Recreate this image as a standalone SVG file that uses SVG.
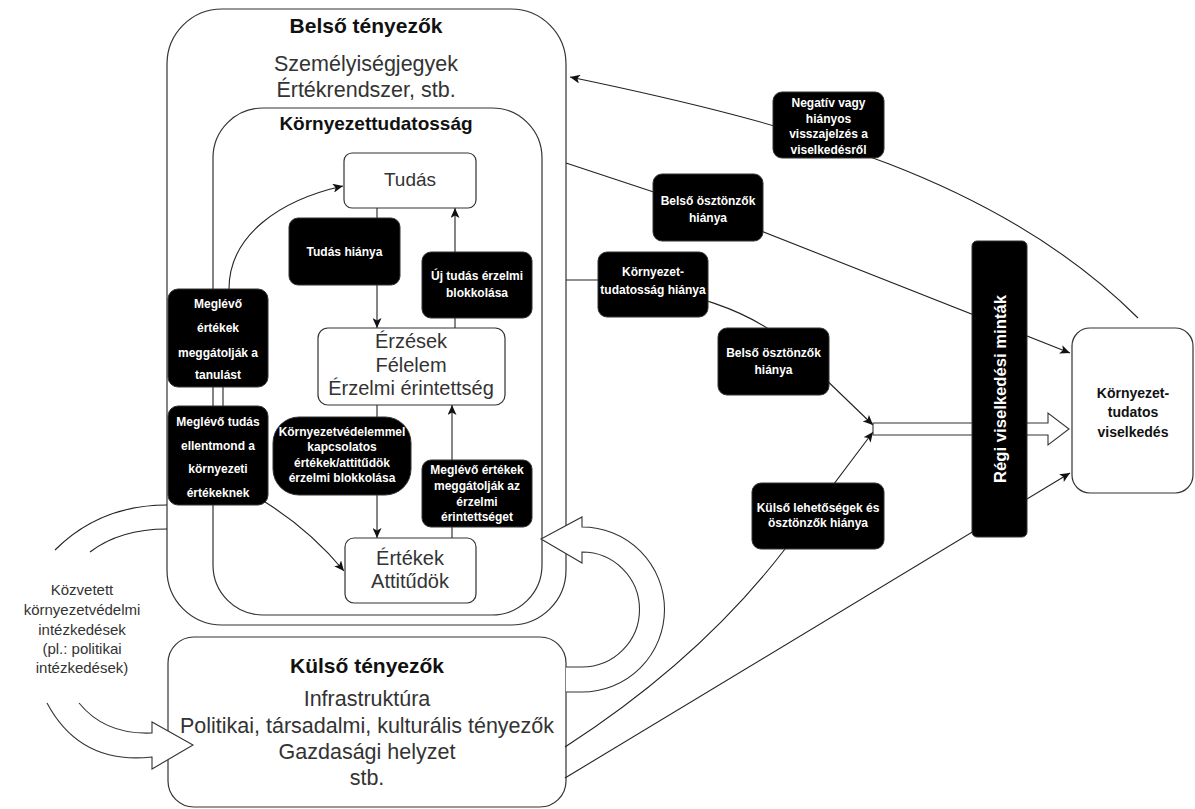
<svg xmlns="http://www.w3.org/2000/svg" width="1195" height="809" viewBox="0 0 1195 809">
<defs>
<marker id="ah" markerUnits="userSpaceOnUse" markerWidth="11" markerHeight="9" refX="10" refY="4.5" orient="auto">
<path d="M0,0 L10,4.5 L0,9 L2.5,4.5 Z" fill="#111"/>
</marker>
<style>
.box{fill:#fff;stroke:#333;stroke-width:1.2}
.lbl{fill:#000;stroke:#333;stroke-width:1}
.ln{fill:none;stroke:#222;stroke-width:1.1}
.hol{fill:#fff;stroke:#333;stroke-width:1.1}
.t{font-family:"Liberation Sans",Arial,sans-serif;text-anchor:middle}
.w{fill:#fff;font-weight:bold;font-size:12px}
.g{fill:#333}
.b{fill:#111;font-weight:bold}
</style>
</defs>
<rect width="1195" height="809" fill="#fff"/>

<g id="belso-tenyezok">
<rect class="box" x="167" y="9" width="399" height="616" rx="55"/>
<text class="t b" x="366" y="33" font-size="21">Belső tényezők</text>
<text class="t g" x="366" y="71" font-size="21.5">Személyiségjegyek</text>
<text class="t g" x="366" y="97" font-size="21.5">Értékrendszer, stb.</text>
</g>
<g id="kornyezettudatossag">
<rect class="box" x="213" y="108" width="329" height="507" rx="50"/>
<text class="t b" x="376" y="130" font-size="19">Környezettudatosság</text>
</g>
<g id="kulso-tenyezok">
<rect class="box" x="168" y="637" width="398" height="170" rx="26"/>
<text class="t b" x="367" y="673" font-size="21">Külső tényezők</text>
<text class="t g" x="367" y="706" font-size="21.5">Infrastruktúra</text>
<text class="t g" x="367" y="733" font-size="21.5">Politikai, társadalmi, kulturális tényezők</text>
<text class="t g" x="367" y="759" font-size="21.5">Gazdasági helyzet</text>
<text class="t g" x="367" y="785" font-size="21.5">stb.</text>
</g>

<g id="connectors">
<path class="ln" d="M377,208 L377,328" marker-end="url(#ah)"/>
<path class="ln" d="M455,328 L455,208" marker-end="url(#ah)"/>
<path class="ln" d="M377,405 L377,538" marker-end="url(#ah)"/>
<path class="ln" d="M452,538 L452,405" marker-end="url(#ah)"/>
<path class="ln" d="M229,289 C229,235 280,200 343,186" marker-end="url(#ah)"/>
<path class="ln" d="M223,387 L223,406"/>
<path class="ln" d="M265,502 Q310,530 344,571" marker-end="url(#ah)"/>
<path class="ln" d="M1138,318 C1000,180 800,125 570,77" marker-end="url(#ah)"/>
<path class="ln" d="M566,163 L708,210 L1070,353" marker-end="url(#ah)"/>
<path class="ln" d="M566,280 L600,280 C690,290 750,310 790,345 L873,425" marker-end="url(#ah)"/>
<path class="ln" d="M565,747 Q700,660 785,549 L873,432" marker-end="url(#ah)"/>
<path class="ln" d="M565,778 L1070,473" marker-end="url(#ah)"/>
<path class="hol" d="M873,423 L1048,423 L1048,413 L1069,429 L1048,445 L1048,435 L873,435 Z"/>
<path class="hol" d="M566,667 L582,667 A57.5,57.5 0 0 0 639.5,609.5 A57.5,57.5 0 0 0 582,552 L582,563 L541,539 L582,517 L582,527 A82.5,82.5 0 0 1 664.5,609.5 A82.5,82.5 0 0 1 582,692 L566,692"/>
<path class="ln" d="M167,505 Q100,505 55,550"/>
<path class="ln" d="M167,529 Q120,529 90,552"/>
<path class="hol" d="M47,703 Q80,765 152,757 L152,769 L193,745 L152,722 L152,733 Q105,735 79,703"/>
</g>

<g id="tudas">
<rect class="box" x="344" y="153" width="132" height="55" rx="8"/>
<text class="t g" x="410" y="186" font-size="19">Tudás</text>
</g>
<g id="erzesek">
<rect class="box" x="318" y="328" width="187" height="77" rx="10"/>
<text class="t g" x="411" y="348" font-size="20">Érzések</text>
<text class="t g" x="411" y="372" font-size="20">Félelem</text>
<text class="t g" x="411" y="395" font-size="20">Érzelmi érintettség</text>
</g>
<g id="ertekek">
<rect class="box" x="345" y="538" width="131" height="65" rx="9"/>
<text class="t g" x="410" y="565" font-size="20">Értékek</text>
<text class="t g" x="410" y="588" font-size="20">Attitűdök</text>
</g>
<g id="kornyezettudatos-viselkedes">
<rect class="box" x="1072" y="328" width="121" height="165" rx="18"/>
<text class="t b" x="1133" y="398" font-size="14">Környezet-</text>
<text class="t b" x="1133" y="417" font-size="14">tudatos</text>
<text class="t b" x="1133" y="437" font-size="14">viselkedés</text>
</g>

<g id="tudas-hianya">
<rect class="lbl" x="289" y="218" width="111" height="67" rx="9"/>
<text class="t w" x="344.5" y="256">Tudás hiánya</text>
</g>
<g id="uj-tudas">
<rect class="lbl" x="422" y="252" width="110" height="66" rx="9"/>
<text class="t w" x="477" y="280">Új tudás érzelmi</text>
<text class="t w" x="477" y="297">blokkolása</text>
</g>
<g id="meglevo-ertekek-tanulas">
<rect class="lbl" x="168" y="289" width="100" height="98" rx="10"/>
<text class="t w" x="218" y="308">Meglévő</text>
<text class="t w" x="218" y="332">értékek</text>
<text class="t w" x="218" y="357">meggátolják a</text>
<text class="t w" x="218" y="379">tanulást</text>
</g>
<g id="meglevo-tudas">
<rect class="lbl" x="168" y="406" width="100" height="99" rx="10"/>
<text class="t w" x="218" y="426">Meglévő tudás</text>
<text class="t w" x="218" y="450">ellentmond a</text>
<text class="t w" x="218" y="473">környezeti</text>
<text class="t w" x="218" y="497">értékeknek</text>
</g>
<g id="kornyezetvedelemmel">
<rect class="lbl" x="273" y="417" width="138" height="78" rx="26"/>
<text class="t w" x="342" y="436">Környezetvédelemmel</text>
<text class="t w" x="342" y="451">kapcsolatos</text>
<text class="t w" x="342" y="467">értékek/attitűdök</text>
<text class="t w" x="342" y="482">érzelmi blokkolása</text>
</g>
<g id="meglevo-ertekek-erzelmi">
<rect class="lbl" x="422" y="460" width="110" height="67" rx="9"/>
<text class="t w" x="477" y="474">Meglévő értékek</text>
<text class="t w" x="477" y="490">meggátolják az</text>
<text class="t w" x="477" y="506">érzelmi</text>
<text class="t w" x="477" y="521">érintettséget</text>
</g>
<g id="negativ-visszajelzes">
<rect class="lbl" x="773" y="92" width="111" height="66" rx="9"/>
<text class="t w" x="828.5" y="107">Negatív vagy</text>
<text class="t w" x="828.5" y="123">hiányos</text>
<text class="t w" x="828.5" y="138">visszajelzés a</text>
<text class="t w" x="828.5" y="154">viselkedésről</text>
</g>
<g id="belso-osztonzok-1">
<rect class="lbl" x="653" y="174" width="110" height="67" rx="9"/>
<text class="t w" x="708" y="205">Belső ösztönzők</text>
<text class="t w" x="708" y="222">hiánya</text>
</g>
<g id="kornyezettudatossag-hianya">
<rect class="lbl" x="598" y="252" width="110" height="65" rx="9"/>
<text class="t w" x="653" y="276">Környezet-</text>
<text class="t w" x="653" y="294">tudatosság hiánya</text>
</g>
<g id="belso-osztonzok-2">
<rect class="lbl" x="718" y="328" width="111" height="67" rx="9"/>
<text class="t w" x="773.5" y="357">Belső ösztönzők</text>
<text class="t w" x="773.5" y="374">hiánya</text>
</g>
<g id="kulso-lehetosegek">
<rect class="lbl" x="752" y="483" width="132" height="66" rx="9"/>
<text class="t w" x="818" y="512">Külső lehetőségek és</text>
<text class="t w" x="818" y="527">ösztönzők hiánya</text>
</g>
<g id="regi-viselkedesi-mintak">
<rect class="lbl" x="972" y="241" width="55" height="296" rx="5"/>
<text class="t" fill="#fff" font-weight="bold" font-size="17" textLength="188" lengthAdjust="spacingAndGlyphs" transform="translate(1006,389) rotate(-90)">Régi viselkedési minták</text>
</g>

<g id="kozvetett">
<text class="t g" x="82" y="595" font-size="15">Közvetett</text>
<text class="t g" x="82" y="615" font-size="15">környezetvédelmi</text>
<text class="t g" x="82" y="635" font-size="15">intézkedések</text>
<text class="t g" x="82" y="654" font-size="15">(pl.: politikai</text>
<text class="t g" x="82" y="673" font-size="15">intézkedések)</text>
</g>
</svg>
